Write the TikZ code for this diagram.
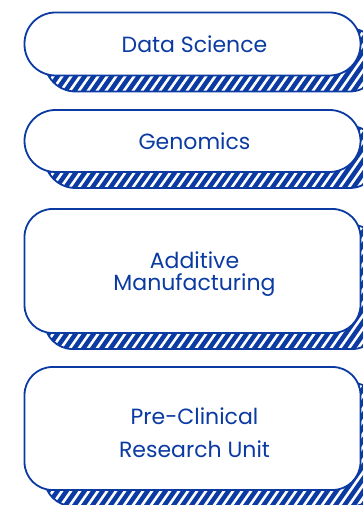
\documentclass[tikz,border=0pt]{standalone}
\usepackage{fontspec}
\setmainfont{Poppins}
\usetikzlibrary{backgrounds,calc}
\definecolor{navy}{RGB}{10,58,162}
\tikzset{
  x=1pt,y=1pt,
  cardbox/.style={draw=navy, fill=white, line width=1.8pt, minimum width=336pt, inner sep=0pt},
  cardtext/.style={text=navy, font=\fontsize{22}{22}\selectfont, align=center, inner sep=0pt},
  hatchbox/.style={draw=navy, fill=navy, line width=1.8pt, minimum width=336pt, inner sep=0pt,
    path picture={
      \foreach \k in {0,...,50}{
        \draw[white, line width=2.6pt]
          ($(path picture bounding box.south west)+(\k*9-90,-10)$) -- ++(55:220);
      }
    }},
}
\begin{document}
\begin{tikzpicture}
\clip (0,0) rectangle (362,505);
% boxes
\node[cardbox, minimum height=63pt, rounded corners=31pt] (b1) at (192.5,461) {};
\node[cardbox, minimum height=62pt, rounded corners=31pt] (b2) at (192.5,364) {};
\node[cardbox, minimum height=124pt, rounded corners=28pt] (b3) at (192.5,234) {};
\node[cardbox, minimum height=123pt, rounded corners=28pt] (b4) at (192.5,76.5) {};
% texts
\node[cardtext] (t1) at ([xshift=2pt]b1.center) {Data Science};
\node[cardtext] (t2) at ([xshift=2pt]b2.center) {Genomics};
\node[cardtext, font=\fontsize{22}{22}\selectfont] (t3) at ([xshift=2pt,yshift=-3pt]b3.center) {Additive\\Manufacturing};
\node[cardtext, font=\fontsize{22}{33}\selectfont] (t4) at ([xshift=2pt,yshift=-4pt]b4.center) {Pre-Clinical\\Research Unit};
% hatched shadows
\begin{scope}[on background layer]
\fill[white] (0,0) rectangle (362,505);
\node[hatchbox, minimum height=63pt, rounded corners=31pt] (s1) at ([shift={(20,-16)}]b1.center) {};
\node[hatchbox, minimum height=62pt, rounded corners=31pt] (s2) at ([shift={(20,-16)}]b2.center) {};
\node[hatchbox, minimum height=124pt, rounded corners=28pt] (s3) at ([shift={(20,-16)}]b3.center) {};
\node[hatchbox, minimum height=123pt, rounded corners=28pt] (s4) at ([shift={(20,-16)}]b4.center) {};
\end{scope}
\end{tikzpicture}
\end{document}
